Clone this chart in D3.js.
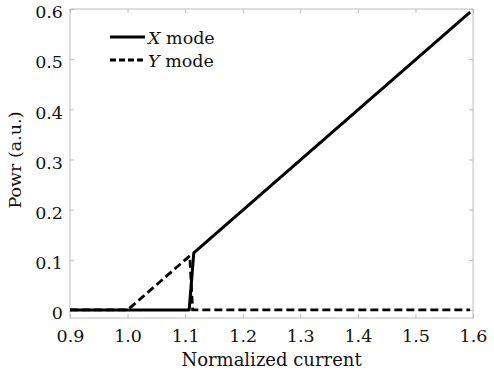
<!DOCTYPE html>
<html>
<head>
<meta charset="utf-8">
<script src="https://cdn.jsdelivr.net/npm/d3@7"></script>
<style>
  body { margin: 0; background: #fff; }
  svg text { font-family: "DejaVu Serif", serif; fill: #111; }
</style>
</head>
<body>
<svg id="chart" width="494" height="376"></svg>
<script>
// data
var xModeCurrent = [0.9, 1.107, 1.115, 1.595];
var xModePower = [0, 0, 0.114, 0.594];
var yModeCurrent = [0.9, 1.0, 1.108, 1.113, 1.595];
var yModePower = [0, 0, 0.108, 0, 0];
var xTicks = [0.9, 1.0, 1.1, 1.2, 1.3, 1.4, 1.5, 1.6];
var yTicks = [0, 0.1, 0.2, 0.3, 0.4, 0.5, 0.6];
var legendLabels = ["X", "Y"];

var margin = { top: 9, right: 21, bottom: 58, left: 70 };
var width = 494 - margin.left - margin.right,
   height = 376 - margin.top - margin.bottom;

var svg = d3.select("svg#chart");
var g = svg.append("g").attr("transform", "translate(" + margin.left + "," + margin.top + ")");

var x = d3.scaleLinear().domain([0.9, 1.6]).range([0, width]);
var y = d3.scaleLinear().domain([-0.016, 0.6]).range([height, 0]);

// frame
g.append("rect")
   .attr("width", width)
   .attr("height", height)
   .attr("fill", "none")
   .attr("stroke", "#bdbdbd")
   .attr("stroke-width", 1);

var tickLen = 4;
function styleAxis(sel) {
   sel.select(".domain").remove();
   sel.selectAll(".tick line").attr("stroke", "#bdbdbd");
   sel.selectAll(".tick text").attr("font-size", 17.5).attr("fill", "#111");
}

// bottom + top
g.append("g")
   .attr("transform", "translate(0," + height + ")")
   .call(d3.axisBottom(x).tickValues(xTicks).tickSize(-tickLen).tickFormat(d3.format(".1f")))
   .call(styleAxis)
   .selectAll(".tick text").attr("dy", null).attr("y", 24);
g.append("g")
   .call(d3.axisTop(x).tickValues(xTicks).tickSize(-tickLen).tickFormat(""))
   .call(styleAxis);
// left + right
g.append("g")
   .call(d3.axisLeft(y).tickValues(yTicks).tickSize(-tickLen).tickPadding(7).tickFormat(function (d) { return d === 0 ? "0" : d3.format(".1f")(d); }))
   .call(styleAxis)
   .selectAll(".tick text").attr("dy", "0.5em");
g.append("g")
   .attr("transform", "translate(" + width + ",0)")
   .call(d3.axisRight(y).tickValues(yTicks).tickSize(-tickLen).tickFormat(""))
   .call(styleAxis);

var line = d3.line()
   .x(function (d) { return x(d[0]); })
   .y(function (d) { return y(d[1]); });

var xModeData = d3.zip(xModeCurrent, xModePower);
var yModeData = d3.zip(yModeCurrent, yModePower);

g.append("path")
   .datum(yModeData)
   .attr("d", line)
   .attr("fill", "none")
   .attr("stroke", "#000")
   .attr("stroke-width", 2.8)
   .attr("stroke-dasharray", "8,4");

g.append("path")
   .datum(xModeData)
   .attr("d", line)
   .attr("fill", "none")
   .attr("stroke", "#000")
   .attr("stroke-width", 3)
   .attr("stroke-linejoin", "round");

// legend
var legend = g.append("g").attr("transform", "translate(40,28)");
legendLabels.forEach(function (lab, i) {
   var row = legend.append("g").attr("transform", "translate(0," + i * 23 + ")");
   row.append("line")
      .attr("x1", 0).attr("x2", 35)
      .attr("stroke", "#000")
      .attr("stroke-width", 2.8)
      .attr("stroke-dasharray", i === 0 ? null : "6,3");
   var t = row.append("text").attr("x", 38).attr("y", 7).attr("font-size", 17.5);
   t.append("tspan").attr("font-style", "italic").text(lab);
   t.append("tspan").text(" mode");
});

// axis titles
svg.append("text")
   .attr("x", margin.left + width / 2)
   .attr("y", 366)
   .attr("text-anchor", "middle")
   .attr("font-size", 18)
   .text("Normalized current");

svg.append("text")
   .attr("transform", "translate(21," + 160 + ") rotate(-90)")
   .attr("text-anchor", "middle")
   .attr("font-size", 17.5)
   .text("Powr (a.u.)");
</script>
</body>
</html>
